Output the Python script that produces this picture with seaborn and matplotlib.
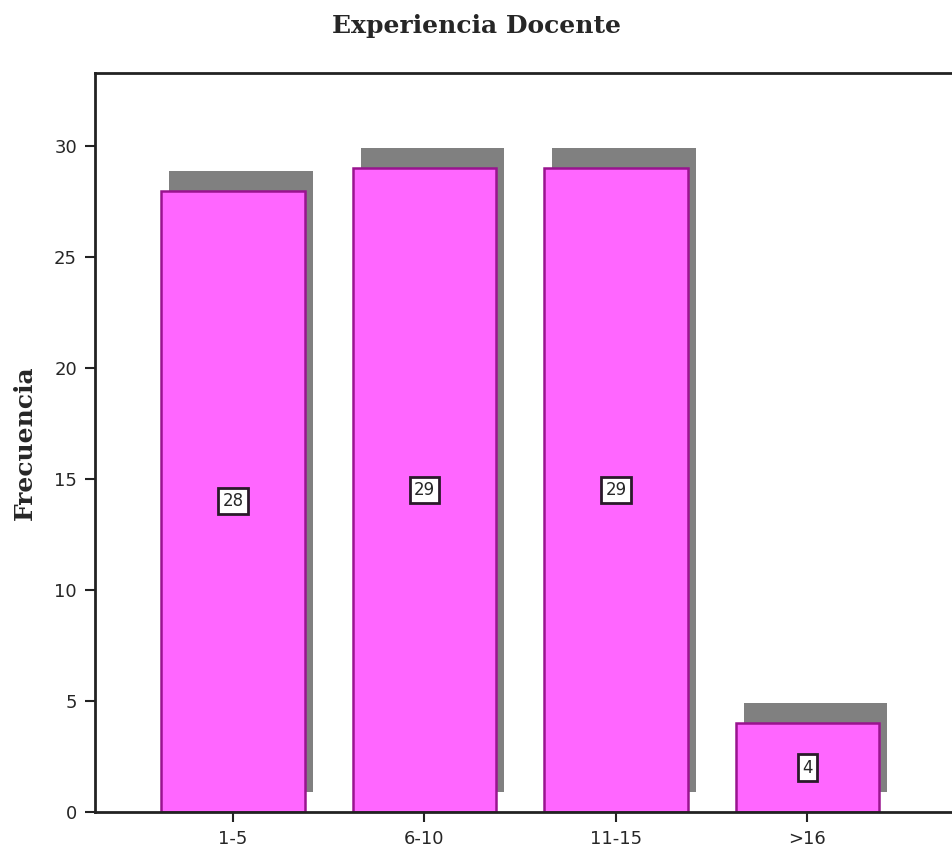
import numpy as np
import pandas as pd
import seaborn as sns
import matplotlib
matplotlib.use("Agg")
import matplotlib.pyplot as plt

categorias = ["1-5", "6-10", "11-15", ">16"]
frecuencias = [28, 29, 29, 4]

df = pd.DataFrame({"exp": categorias, "frec": frecuencias})

sns.set_style("white")
plt.rcParams["font.family"] = ["DejaVu Sans"]

fig = plt.figure(figsize=(9.53, 8.59), dpi=100)
ax = fig.add_axes([95 / 953, 47 / 859, 858 / 953, 739 / 859])

# sombra gris detras de cada barra
pos = np.arange(len(categorias))
ax.bar(pos + 0.042, df["frec"], width=0.75, bottom=0.9, color="#808080",
       edgecolor="none", zorder=1)

sns.barplot(data=df, x="exp", y="frec", color="#ff66ff", saturation=1,
            width=0.75, edgecolor="#99148f", linewidth=1.8, ax=ax, zorder=2)

for i, v in enumerate(frecuencias):
    ax.text(i, v / 2, str(v), ha="center", va="center", fontsize=12, zorder=5,
            bbox=dict(boxstyle="square,pad=0.25", fc="white", ec="#2a1a2a", lw=2))

ax.set_xlim(-0.72, 3.76)
ax.set_ylim(0, 33.3)
ax.set_yticks([0, 5, 10, 15, 20, 25, 30])
ax.set_xlabel("")
ax.set_ylabel("Frecuencia", family="DejaVu Serif", fontsize=18, fontweight="semibold",
              labelpad=12)

for s in ["left", "bottom", "top"]:
    ax.spines[s].set_color("#222222")
    ax.spines[s].set_linewidth(2)
ax.spines["right"].set_visible(False)
ax.tick_params(axis="both", direction="out", length=7, width=1.5, color="#222222",
               labelsize=13, pad=6, bottom=True, left=True)

fig.text(0.5, 0.97, "Experiencia Docente", ha="center", va="center",
         family="DejaVu Serif", fontsize=18, fontweight="semibold")

fig.savefig("out.png", dpi=100)
